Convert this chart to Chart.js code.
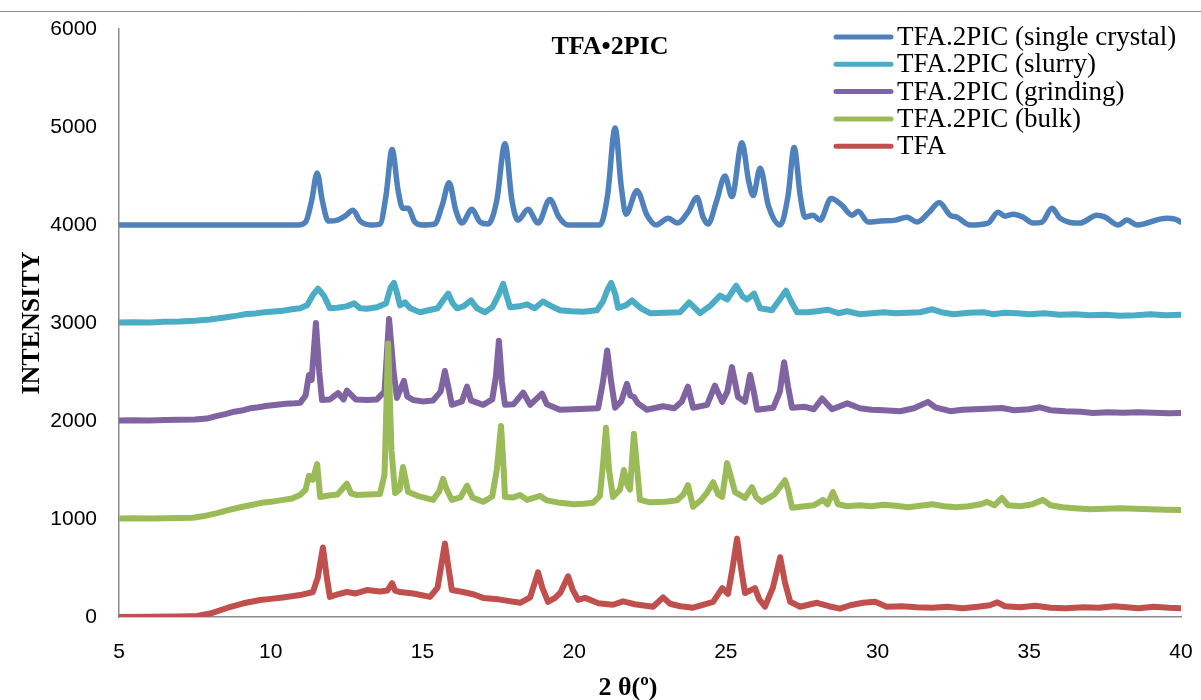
<!DOCTYPE html>
<html>
<head>
<meta charset="utf-8">
<script src="https://cdn.jsdelivr.net/npm/chart.js@4/dist/chart.umd.min.js"></script>
<style>
  html, body { margin: 0; padding: 0; background: #fff; }
  #wrap { width: 1201px; height: 700px; position: relative; }
</style>
</head>
<body>
<div id="wrap"><canvas id="xrd"></canvas></div>
<script>
// series labels, in legend order
var seriesNames = ["TFA.2PIC (single crystal)", "TFA.2PIC (slurry)", "TFA.2PIC (grinding)", "TFA.2PIC (bulk)", "TFA"];
var seriesColors = ["#4F81BD", "#4BACC6", "#8064A2", "#9BBB59", "#C0504D"];

var xTicks = [5, 10, 15, 20, 25, 30, 35, 40];
var yTicks = [0, 1000, 2000, 3000, 4000, 5000, 6000];

// [2theta, intensity]
var singleCrystal = [[5,4000],[10.9,4000],[11.15,4030],[11.35,4250],[11.53,4530],[11.7,4250],[11.9,4040],[12.2,4050],[12.45,4090],[12.71,4150],[12.95,4040],[13.3,4000],[13.6,4010],[13.8,4300],[14.0,4770],[14.2,4350],[14.35,4170],[14.53,4170],[14.75,4030],[15.0,4000],[15.4,4010],[15.65,4200],[15.88,4430],[16.1,4150],[16.3,4020],[16.63,4160],[16.9,4030],[17.16,4010],[17.45,4250],[17.72,4830],[17.95,4250],[18.15,4050],[18.48,4160],[18.81,4020],[19.2,4260],[19.5,4080],[19.8,4000],[20.85,4000],[21.1,4300],[21.35,4990],[21.55,4400],[21.71,4110],[22.07,4350],[22.4,4100],[22.7,4000],[23.1,4070],[23.4,4020],[23.75,4130],[24.05,4280],[24.25,4080],[24.41,4010],[24.7,4250],[24.97,4500],[25.2,4290],[25.53,4840],[25.75,4450],[25.9,4300],[26.13,4580],[26.4,4200],[26.79,4000],[27.05,4300],[27.25,4790],[27.45,4300],[27.61,4080],[27.87,4100],[28.1,4050],[28.47,4270],[28.83,4200],[29.16,4100],[29.36,4140],[29.69,4030],[30.1,4040],[30.6,4050],[30.97,4080],[31.3,4030],[31.7,4130],[32.03,4230],[32.39,4100],[32.62,4080],[33.05,4000],[33.64,4020],[33.97,4130],[34.2,4090],[34.47,4110],[34.8,4080],[35.12,4020],[35.42,4030],[35.75,4170],[36.01,4070],[36.67,4020],[37.23,4100],[37.5,4080],[37.93,4000],[38.22,4050],[38.55,4000],[38.88,4020],[39.3,4060],[39.54,4070],[39.8,4060],[40,4030]];

var slurry = [[5,3005],[5.5,3008],[6,3006],[6.5,3012],[7,3015],[7.5,3022],[8,3035],[8.3,3048],[8.6,3062],[8.9,3075],[9.2,3092],[9.5,3098],[9.8,3110],[10.1,3118],[10.4,3125],[10.7,3140],[10.97,3150],[11.2,3180],[11.4,3290],[11.56,3350],[11.75,3280],[11.95,3150],[12.2,3155],[12.5,3170],[12.75,3200],[12.95,3150],[13.17,3145],[13.5,3160],[13.8,3200],[13.95,3360],[14.06,3410],[14.15,3320],[14.26,3180],[14.43,3210],[14.6,3150],[14.92,3110],[15.2,3130],[15.5,3150],[15.7,3240],[15.85,3300],[16.0,3200],[16.14,3150],[16.35,3170],[16.6,3230],[16.8,3150],[17.06,3110],[17.3,3160],[17.5,3280],[17.66,3400],[17.8,3250],[17.89,3160],[18.2,3170],[18.45,3190],[18.7,3150],[18.97,3220],[19.2,3180],[19.53,3130],[19.9,3120],[20.3,3115],[20.75,3130],[20.95,3220],[21.1,3340],[21.22,3410],[21.35,3300],[21.45,3155],[21.7,3180],[21.91,3230],[22.2,3150],[22.5,3100],[23.0,3105],[23.49,3110],[23.79,3210],[24.15,3100],[24.5,3180],[24.81,3280],[25.04,3240],[25.34,3380],[25.55,3270],[25.7,3240],[25.93,3300],[26.13,3150],[26.52,3130],[26.8,3250],[26.98,3330],[27.15,3220],[27.35,3110],[27.7,3110],[28.0,3120],[28.37,3135],[28.7,3100],[29.0,3120],[29.4,3090],[29.8,3100],[30.2,3110],[30.6,3100],[31.0,3105],[31.4,3110],[31.8,3140],[32.1,3110],[32.5,3090],[33.0,3105],[33.5,3110],[33.8,3090],[34.2,3105],[34.6,3100],[35.0,3090],[35.5,3100],[36.0,3085],[36.5,3090],[37.0,3080],[37.5,3085],[38.0,3075],[38.5,3080],[39.0,3090],[39.5,3080],[40,3085]];

var grinding = [[5,2005],[5.5,2008],[6,2006],[6.5,2010],[7,2012],[7.5,2015],[7.9,2025],[8.2,2050],[8.5,2070],[8.8,2095],[9.1,2110],[9.32,2130],[9.6,2140],[9.9,2155],[10.2,2165],[10.5,2175],[10.8,2180],[10.97,2185],[11.15,2260],[11.26,2470],[11.35,2420],[11.49,3000],[11.6,2500],[11.69,2215],[11.95,2220],[12.22,2285],[12.4,2220],[12.51,2310],[12.8,2220],[13.17,2215],[13.5,2220],[13.75,2300],[13.9,3040],[14.05,2500],[14.16,2235],[14.39,2410],[14.5,2250],[14.69,2215],[15.0,2200],[15.35,2210],[15.6,2300],[15.74,2510],[15.85,2350],[15.97,2165],[16.3,2200],[16.47,2350],[16.6,2210],[17.0,2165],[17.3,2220],[17.42,2450],[17.52,2820],[17.62,2400],[17.72,2165],[18.0,2170],[18.32,2290],[18.55,2165],[18.94,2280],[19.1,2170],[19.53,2115],[20.0,2120],[20.4,2125],[20.79,2130],[20.95,2400],[21.09,2720],[21.22,2400],[21.35,2135],[21.55,2200],[21.74,2380],[21.85,2260],[21.97,2245],[22.1,2180],[22.4,2115],[22.93,2150],[23.3,2130],[23.55,2200],[23.75,2350],[23.92,2135],[24.38,2165],[24.64,2360],[24.88,2195],[25.05,2300],[25.2,2550],[25.3,2400],[25.4,2245],[25.63,2195],[25.8,2470],[25.92,2300],[26.03,2115],[26.56,2135],[26.78,2300],[26.92,2600],[27.05,2350],[27.18,2135],[27.61,2145],[27.9,2120],[28.17,2230],[28.5,2120],[29.0,2180],[29.42,2130],[29.8,2115],[30.2,2110],[30.74,2100],[31.2,2130],[31.66,2195],[31.9,2140],[32.4,2100],[32.8,2115],[33.2,2120],[33.6,2125],[34.1,2133],[34.5,2110],[35.0,2120],[35.35,2140],[35.7,2110],[36.2,2100],[36.7,2095],[37.1,2082],[37.6,2090],[38.1,2085],[38.6,2090],[39.1,2085],[39.6,2080],[40,2082]];

var bulk = [[5,1005],[5.5,1008],[6,1006],[6.5,1008],[7,1010],[7.44,1012],[7.8,1030],[8.23,1060],[8.6,1090],[9.0,1120],[9.32,1140],[9.7,1165],[10.0,1175],[10.41,1195],[10.7,1210],[10.97,1245],[11.15,1300],[11.26,1440],[11.38,1400],[11.53,1560],[11.63,1225],[11.9,1240],[12.2,1250],[12.51,1360],[12.65,1260],[12.84,1245],[13.2,1250],[13.6,1255],[13.75,1450],[13.87,2790],[13.98,1700],[14.1,1265],[14.25,1300],[14.36,1530],[14.53,1275],[14.9,1230],[15.35,1195],[15.55,1280],[15.68,1410],[15.8,1300],[15.97,1195],[16.25,1220],[16.47,1340],[16.65,1220],[17.0,1175],[17.3,1230],[17.45,1500],[17.59,1950],[17.68,1500],[17.72,1225],[18.0,1220],[18.22,1245],[18.45,1195],[18.88,1235],[19.1,1190],[19.53,1165],[20.0,1150],[20.3,1155],[20.62,1165],[20.85,1235],[20.95,1550],[21.05,1930],[21.15,1500],[21.28,1225],[21.51,1300],[21.64,1500],[21.75,1350],[21.84,1300],[21.97,1870],[22.08,1500],[22.17,1195],[22.5,1170],[23.0,1175],[23.39,1190],[23.6,1250],[23.75,1345],[23.92,1125],[24.2,1200],[24.38,1270],[24.58,1375],[24.75,1250],[24.88,1225],[25.04,1570],[25.15,1450],[25.3,1275],[25.63,1215],[25.86,1325],[26.0,1220],[26.19,1175],[26.6,1250],[26.95,1395],[27.05,1300],[27.18,1115],[27.6,1130],[27.9,1140],[28.2,1195],[28.35,1150],[28.53,1275],[28.7,1150],[29.0,1130],[29.4,1140],[29.8,1130],[30.2,1145],[30.6,1135],[31.0,1120],[31.4,1135],[31.8,1150],[32.2,1130],[32.6,1120],[33.0,1130],[33.4,1150],[33.61,1175],[33.85,1140],[34.1,1215],[34.3,1140],[34.7,1130],[35.1,1150],[35.45,1195],[35.7,1140],[36.1,1120],[36.5,1110],[37.0,1100],[37.5,1105],[38.0,1110],[38.5,1105],[39.0,1100],[39.5,1095],[40,1092]];

var tfa = [[5,0],[6,2],[7,5],[7.57,10],[8.0,35],[8.56,92],[9.1,140],[9.65,173],[10.0,185],[10.4,200],[10.97,224],[11.39,255],[11.55,400],[11.72,710],[11.85,400],[11.95,205],[12.2,230],[12.51,255],[12.8,240],[13.17,275],[13.6,260],[13.85,270],[14.0,345],[14.1,270],[14.26,255],[14.7,240],[15.25,205],[15.5,300],[15.74,750],[15.86,500],[15.97,275],[16.34,255],[16.7,230],[17.0,195],[17.5,180],[18.22,145],[18.55,200],[18.81,455],[18.95,300],[19.14,155],[19.37,195],[19.55,250],[19.8,415],[19.95,280],[20.13,175],[20.36,195],[20.8,140],[21.28,125],[21.61,160],[22.0,130],[22.6,105],[22.93,200],[23.16,135],[23.5,110],[23.92,95],[24.3,130],[24.58,155],[24.88,295],[25.07,235],[25.22,500],[25.37,800],[25.5,500],[25.63,245],[25.96,295],[26.1,180],[26.29,105],[26.55,300],[26.79,610],[26.95,350],[27.12,155],[27.45,105],[28.0,145],[28.4,110],[28.76,85],[29.1,120],[29.52,145],[29.92,155],[30.3,105],[30.8,110],[31.3,100],[31.8,95],[32.3,105],[32.8,90],[33.3,105],[33.7,120],[33.95,150],[34.2,110],[34.7,100],[35.2,115],[35.7,95],[36.2,90],[36.8,100],[37.3,95],[37.8,110],[38.2,100],[38.6,90],[39.1,105],[39.6,95],[40,90]];

var allSeries = [singleCrystal, slurry, grinding, bulk, tfa];

function toPoints(arr) {
    return arr.map(function (p) { return { x: p[0], y: p[1] }; });
}

var datasets = allSeries.map(function (s, i) {
    return {
        label: seriesNames[i],
        data: toPoints(s),
        borderColor: seriesColors[i],
        backgroundColor: seriesColors[i],
        borderWidth: i === 0 ? 5.5 : 6,
        pointRadius: 0,
        borderCapStyle: "round",
        borderJoinStyle: "round",
        cubicInterpolationMode: i === 0 ? "monotone" : "default",
        tension: 0,
        // lower ones drawn on top
        order: 5 - i,
    };
});

var serif = "'Liberation Serif', 'Times New Roman', serif";

// legend, titles drawn straight onto the canvas, plus the outer frame line
var overlay = {
    id: "overlay",
    afterDraw: function (chart) {
        var c = chart.ctx;
        var area = chart.chartArea;
        c.save();
        c.strokeStyle = "#8c8c8c";
        c.lineWidth = 1;
        c.beginPath();
        c.moveTo(0, 11.5);
        c.lineTo(chart.width, 11.5);
        c.stroke();

        c.fillStyle = "#000";
        c.textAlign = "center";
        c.textBaseline = "middle";
        c.font = "bold 26px " + serif;
        c.fillText("TFA\u20222PIC", area.left + 491, area.top + 18);

        // x axis title sits a bit left of centre in the original
        c.fillText("2 \u03b8(\u00ba)", 628, 688);

        // legend
        c.font = "27px " + serif;
        c.textAlign = "left";
        var x0 = area.right - 345;
        for (var i = 0; i < seriesNames.length; i++) {
            var y = area.top + 8 + i * 27.3;
            c.strokeStyle = seriesColors[i];
            c.lineWidth = 5;
            c.lineCap = "round";
            c.beginPath();
            c.moveTo(x0, y);
            c.lineTo(x0 + 55, y);
            c.stroke();
            c.fillText(seriesNames[i], x0 + 61, y + 1);
        }
        c.restore();
    }
};

// invisible tick marks push the labels away from the axis
var hiddenTicks = { display: true, drawOnChartArea: false, drawTicks: true, tickLength: 20, color: "rgba(0,0,0,0)" };

var ctx = document.getElementById("xrd").getContext("2d");
const xrdChart = new Chart(ctx, {
    type: "line",
    data: { datasets: datasets },
    options: {
        responsive: true,
        maintainAspectRatio: false,
        animation: false,
        layout: { padding: { left: 0, right: 20, top: 29, bottom: 0 } },
        plugins: {
            legend: { display: false },
            tooltip: { enabled: false },
        },
        scales: {
            x: {
                type: "linear",
                min: 5,
                max: 40,
                afterBuildTicks: function (axis) {
                    axis.ticks = xTicks.map(function (v) { return { value: v }; });
                },
                afterFit: function (axis) { axis.height = 83; },
                grid: hiddenTicks,
                border: { color: "#8c8c8c", width: 1.5 },
                ticks: {
                    color: "#000",
                    padding: 3,
                    maxRotation: 0,
                    callback: function (v) { return String(v); },
                    font: { family: "'Liberation Sans', Arial, sans-serif", size: 21 },
                },
            },
            y: {
                min: 0,
                max: 6000,
                afterBuildTicks: function (axis) {
                    axis.ticks = yTicks.map(function (v) { return { value: v }; });
                },
                afterFit: function (axis) { axis.width = 119; },
                grid: hiddenTicks,
                border: { color: "#8c8c8c", width: 1.5 },
                ticks: {
                    color: "#000",
                    padding: 2,
                    callback: function (v) { return String(v); },
                    font: { family: "'Liberation Sans', Arial, sans-serif", size: 21 },
                },
                title: {
                    display: true,
                    text: "INTENSITY",
                    color: "#000",
                    padding: { top: 17, bottom: 0 },
                    font: { family: serif, size: 26, weight: "bold" },
                },
            },
        },
    },
    plugins: [overlay],
});
</script>
</body>
</html>
